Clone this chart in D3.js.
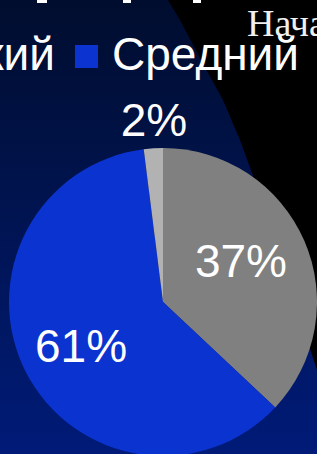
<!DOCTYPE html>
<html><head><meta charset="utf-8">
<script src="https://cdn.jsdelivr.net/npm/d3@7"></script>
<style>html,body{margin:0;padding:0;background:#000;overflow:hidden}svg{display:block}</style>
</head><body>
<script>
const categories = ["Высокий", "Средний", "Низкий"];
const values = [37, 61, 2];
const colors = ["#808080", "#0b33cf", "#b2b2b2"];

const W = 317, H = 454;
const svg = d3.select("body").append("svg").attr("width", W).attr("height", H);
const defs = svg.append("defs");
const g = defs.append("linearGradient").attr("id","bg").attr("x1",0).attr("y1",0).attr("x2",0).attr("y2",1);
g.append("stop").attr("offset","0%").attr("stop-color","#000d2e");
g.append("stop").attr("offset","100%").attr("stop-color","#001b78");
svg.append("rect").attr("width",W).attr("height",H).attr("fill","url(#bg)");

// black diagonal region on the right
const blk = [[168,0],[180,20],[201,60],[223,100],[240,140],[252,173],[317,370],[330,370],[330,0]];
svg.append("path").attr("d", d3.line()(blk)).attr("fill","#000");

// fragments of title text cut off at top
[[37,10],[123,8],[193,8]].forEach(([x,w]) =>
  svg.append("rect").attr("x",x).attr("y",0).attr("width",w).attr("height",3).attr("fill","#fff"));

// partial subtitle
svg.append("text").attr("x",247).attr("y",36).attr("font-family","Liberation Serif, Times New Roman, serif")
  .attr("font-size",38).attr("fill","#f0f0f0").text("Начальный");

// legend
const legend = svg.append("g");
const items = legend.selectAll("g").data(categories).join("g");
items.append("rect").attr("width",23).attr("height",23).attr("y",45).attr("fill",(d,i)=>colors[i]);
items.append("text").attr("x",37).attr("y",70).attr("font-family","Liberation Sans, Arial, sans-serif")
  .attr("font-size",46).attr("fill","#fff").text(d=>d);
const widths = [];
items.each(function(){ widths.push(d3.select(this).select("text").node().getComputedTextLength()); });
const itemW = widths.map(w => 37 + w + 20);
const start1 = 75;
let xs = [start1 - itemW[0]];
for (let i = 1; i < categories.length; i++) xs.push(xs[i-1] + itemW[i-1]);
items.attr("transform",(d,i)=>`translate(${xs[i]},0)`);

// pie
const cx = 163, cy = 302, r = 154;
const pie = d3.pie().sort(null).value(d=>d)(values);
const arc = d3.arc().innerRadius(0).outerRadius(r);
const pg = svg.append("g").attr("transform",`translate(${cx},${cy})`);
pg.selectAll("path").data(pie).join("path").attr("d",arc).attr("fill",(d,i)=>colors[i]);

// labels
const labelPos = [[78,-25],[-82,60],[-9,-166]];
pg.selectAll("text.lbl").data(pie).join("text").attr("class","lbl")
  .attr("x",(d,i)=>labelPos[i][0]).attr("y",(d,i)=>labelPos[i][1])
  .attr("text-anchor","middle").attr("font-family","Liberation Sans, Arial, sans-serif")
  .attr("font-size",46).attr("fill","#fff")
  .text(d=>Math.round(d.data)+"%");
</script>
</body></html>
